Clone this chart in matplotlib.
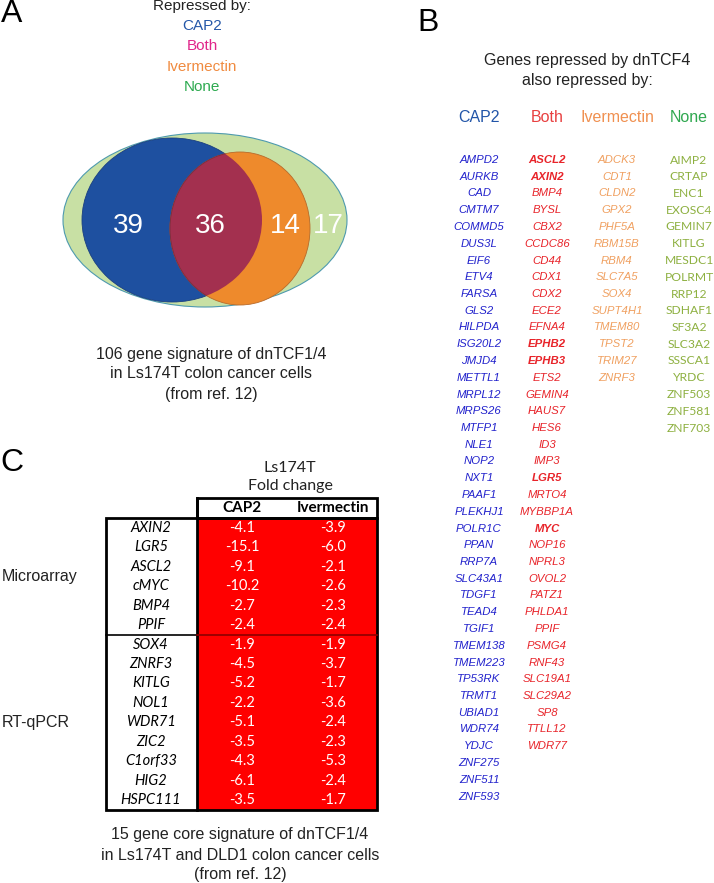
import matplotlib
matplotlib.use("Agg")
import matplotlib.pyplot as plt
from matplotlib.patches import Ellipse, Rectangle

# --- data -------------------------------------------------------------
venn_groups = ["CAP2", "Both", "Ivermectin", "None"]
venn_counts = [39, 36, 14, 17]

cap2_genes = ["AMPD2", "AURKB", "CAD", "CMTM7", "COMMD5", "DUS3L", "EIF6", "ETV4",
              "FARSA", "GLS2", "HILPDA", "ISG20L2", "JMJD4", "METTL1", "MRPL12",
              "MRPS26", "MTFP1", "NLE1", "NOP2", "NXT1", "PAAF1", "PLEKHJ1", "POLR1C",
              "PPAN", "RRP7A", "SLC43A1", "TDGF1", "TEAD4", "TGIF1", "TMEM138",
              "TMEM223", "TP53RK", "TRMT1", "UBIAD1", "WDR74", "YDJC", "ZNF275",
              "ZNF511", "ZNF593"]
both_genes = ["ASCL2", "AXIN2", "BMP4", "BYSL", "CBX2", "CCDC86", "CD44", "CDX1", "CDX2",
              "ECE2", "EFNA4", "EPHB2", "EPHB3", "ETS2", "GEMIN4", "HAUS7", "HES6", "ID3",
              "IMP3", "LGR5", "MRTO4", "MYBBP1A", "MYC", "NOP16", "NPRL3", "OVOL2",
              "PATZ1", "PHLDA1", "PPIF", "PSMG4", "RNF43", "SLC19A1", "SLC29A2", "SP8",
              "TTLL12", "WDR77"]
both_bold = ["ASCL2", "AXIN2", "EPHB2", "EPHB3", "LGR5", "MYC"]
iver_genes = ["ADCK3", "CDT1", "CLDN2", "GPX2", "PHF5A", "RBM15B", "RBM4", "SLC7A5",
              "SOX4", "SUPT4H1", "TMEM80", "TPST2", "TRIM27", "ZNRF3"]
none_genes = ["AIMP2", "CRTAP", "ENC1", "EXOSC4", "GEMIN7", "KITLG", "MESDC1", "POLRMT",
              "RRP12", "SDHAF1", "SF3A2", "SLC3A2", "SSSCA1", "YRDC", "ZNF503", "ZNF581",
              "ZNF703"]

table_genes = ["AXIN2", "LGR5", "ASCL2", "cMYC", "BMP4", "PPIF", "SOX4", "ZNRF3", "KITLG",
               "NOL1", "WDR71", "ZIC2", "C1orf33", "HIG2", "HSPC111"]
fc_cap2 = [-4.1, -15.1, -9.1, -10.2, -2.7, -2.4, -1.9, -4.5, -5.2, -2.2, -5.1, -3.5, -4.3, -6.1, -3.5]
fc_iver = [-3.9, -6.0, -2.1, -2.6, -2.3, -2.4, -1.9, -3.7, -1.7, -3.6, -2.4, -2.3, -5.3, -2.4, -1.7]
n_microarray = 6

# --- figure in pixel coordinates -------------------------------------
fig = plt.figure(figsize=(7.14, 8.83), dpi=100)
ax = fig.add_axes([0, 0, 1, 1])
ax.set_xlim(0, 714)
ax.set_ylim(883, 0)
ax.axis("off")

SANS = "Liberation Sans"
CAL = "Lato"

# panel letters
for letter, (x, y) in zip("ABC", [(12, 14), (428, 23), (12, 463)]):
    ax.text(x, y, letter, fontsize=23, family=SANS, ha="center", va="center")

# --- A: Venn ----------------------------------------------------------
ax.text(202, 6, "Repressed by:", fontsize=11, family=SANS, ha="center", va="center",
        color="#222222")
a_colors = ["#2457A8", "#E0258A", "#F08B40", "#2DAA50"]
for i, (g, c) in enumerate(zip(venn_groups, a_colors)):
    ax.text(202, 26 + i * 20.3, g, fontsize=11, family=SANS, ha="center", va="center", color=c)

green = Ellipse((205, 220), 284, 174, facecolor="#C8E0A4", edgecolor="#4E9AAE", lw=0.8)
blue = Ellipse((172, 220), 180, 164, facecolor="#1E50A0", edgecolor="#1A3F80", lw=0.6)
orange = Ellipse((240, 228.5), 140, 153, facecolor="#EE8A2C", edgecolor="#B86A2A", lw=0.6)
for p in (green, blue, orange):
    ax.add_patch(p)
inter = Ellipse((240, 228.5), 140, 153, facecolor="#A3304F", edgecolor="#7A2A40", lw=0.6)
ax.add_patch(inter)
inter.set_clip_path(blue)

for n, x in zip(venn_counts, [128, 210, 285, 328]):
    ax.text(x, 226, str(n), fontsize=20, family=SANS, color="white", ha="center", va="center")

for i, line in enumerate(["106 gene signature of dnTCF1/4",
                          "in Ls174T colon cancer cells", "(from ref. 12)"]):
    ax.text(211, 354 + i * 20, line, fontsize=11.5, family=SANS, ha="center", va="center",
            color="#222222")

# --- B: gene lists ------------------------------------------------------
ax.text(587, 60, "Genes repressed by dnTCF4", fontsize=11.5, family=SANS, ha="center",
        va="center", color="#222222")
ax.text(587, 80, "also repressed by:", fontsize=11.5, family=SANS, ha="center",
        va="center", color="#222222")

hdr_colors = ["#2255A8", "#E84040", "#F09050", "#30A850"]
col_x = [479, 547, 617, 689]
for g, c, x in zip(venn_groups, hdr_colors, col_x):
    ax.text(x, 118, g, fontsize=11.5, family=SANS, ha="center", va="center", color=c)

gene_cols = [cap2_genes, both_genes, iver_genes, none_genes]
gene_colors = ["#2222CC", "#E8242A", "#F0A060", "#8DB040"]
row_h = 16.75
for k, (genes, c, x) in enumerate(zip(gene_cols, gene_colors, col_x)):
    for i, g in enumerate(genes):
        if k == 3:
            ax.text(x, 160 + i * row_h, g, fontsize=8.7, family=CAL, ha="center",
                    va="center", color=c)
        else:
            ax.text(x, 160 + i * row_h, g, fontsize=8.2, family=SANS, style="italic",
                    weight="bold" if g in both_bold else "normal",
                    ha="center", va="center", color=c)

# --- C: table ------------------------------------------------------------
x_left, x_mid, x_right = 106, 197, 377
hdr_top, hdr_bot = 498, 518
t_row = (810 - hdr_bot) / len(table_genes)
c_cap2, c_iver = 242, 333

ax.text(290, 468, "Ls174T", fontsize=11.5, family=CAL, ha="center", va="center", color="#222222")
ax.text(290, 486, "Fold change", fontsize=11.5, family=CAL, ha="center", va="center",
        color="#222222")

ax.add_patch(Rectangle((x_mid, hdr_bot), x_right - x_mid, t_row * len(table_genes),
                       facecolor="#FF0000", edgecolor="none"))
ax.add_patch(Rectangle((x_mid, hdr_top), x_right - x_mid, hdr_bot - hdr_top,
                       facecolor="white", edgecolor="black", lw=2))
ax.add_patch(Rectangle((x_left, hdr_bot), x_right - x_left, t_row * len(table_genes),
                       facecolor="none", edgecolor="black", lw=2))
ax.plot([x_mid, x_mid], [hdr_top, 810], color="black", lw=2)
y_div = hdr_bot + n_microarray * t_row
ax.plot([x_left, x_mid], [y_div, y_div], color="black", lw=1.2)
ax.plot([x_mid, x_right], [y_div, y_div], color="#8B0000", lw=1.2)

ax.text(c_cap2, (hdr_top + hdr_bot) / 2, "CAP2", fontsize=11, family=CAL, weight="bold",
        ha="center", va="center")
ax.text(c_iver, (hdr_top + hdr_bot) / 2, "Ivermectin", fontsize=11, family=CAL,
        weight="bold", ha="center", va="center")

for i, (g, a, b) in enumerate(zip(table_genes, fc_cap2, fc_iver)):
    y = hdr_bot + (i + 0.5) * t_row
    ax.text(151, y, g, fontsize=10.5, family=CAL, style="italic", ha="center", va="center")
    ax.text(c_cap2, y, f"{a:.1f}", fontsize=10.5, family=CAL, color="white",
            ha="center", va="center")
    ax.text(c_iver, y, f"{b:.1f}", fontsize=10.5, family=CAL, color="white",
            ha="center", va="center")

ax.text(2, hdr_bot + n_microarray / 2 * t_row, "Microarray", fontsize=11.5, family=SANS,
        ha="left", va="center", color="#222222")
ax.text(2, y_div + (len(table_genes) - n_microarray) / 2 * t_row, "RT-qPCR", fontsize=11.5,
        family=SANS, ha="left", va="center", color="#222222")

for i, line in enumerate(["15 gene core signature of dnTCF1/4",
                          "in Ls174T and DLD1 colon cancer cells", "(from ref. 12)"]):
    ax.text(240, 835 + i * 20, line, fontsize=11.5, family=SANS, ha="center", va="center",
            color="#222222")

fig.savefig("out.png", dpi=100)
